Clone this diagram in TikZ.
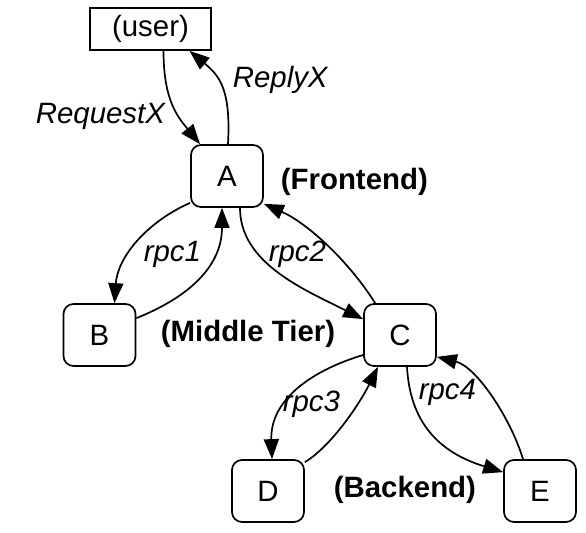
\documentclass[tikz,border=0pt]{standalone}
\usepackage{fontspec}
\setmainfont{Liberation Sans}
\usetikzlibrary{arrows.meta}

\begin{document}
\begin{tikzpicture}[x=0.5pt, y=-0.5pt, line width=0.85pt,
    font=\fontsize{14.7}{17}\selectfont,
    tier/.style={draw, rounded corners=5pt, minimum width=36pt, minimum height=31pt, inner sep=0pt},
    call/.style={-{Triangle[length=10pt,width=7.5pt]}},
    lbl/.style={font=\fontsize{14.7}{17}\selectfont\itshape, anchor=base west, inner sep=0pt},
    layer/.style={font=\fontsize{14.7}{17}\selectfont\bfseries, anchor=base west, inner sep=0pt}]
  \useasboundingbox (0,0) rectangle (586,533);
  % servers
  \node[draw, minimum width=60.5pt, minimum height=21pt, inner sep=0pt] (user) at (150.5,29) {(user)};
  \node[tier] (A) at (227,176) {A};
  \node[tier] (B) at (99.5,335) {B};
  \node[tier] (C) at (400,335) {C};
  \node[tier] (D) at (268,491) {D};
  \node[tier] (E) at (540,491) {E};
  % user <-> frontend
  \draw[call] ([xshift=6.5pt]user.south) .. controls +(0,50) and +(-22,-27) .. ([xshift=-13.5pt]A.north);
  \draw[call] ([xshift=0.5pt]A.north) .. controls +(3,-55) and +(30,25) .. ([xshift=19.5pt]user.south);
  % rpc1
  \draw[call] ([yshift=2.5pt]A.south west) .. controls +(-45,20) and +(3,-45) .. ([xshift=7.5pt]B.north);
  \draw[call] ([yshift=-7.5pt]B.north east) .. controls +(50,-20) and +(0,60) .. ([xshift=-2.5pt]A.south);
  % rpc2
  \draw[call] ([xshift=6.5pt]A.south) .. controls +(0,55) and +(-60,-30) .. ([yshift=-8pt]C.north west);
  \draw[call] ([xshift=6pt]C.north west) .. controls +(-25,-40) and +(45,20) .. ([yshift=2pt]A.south east);
  % rpc3
  \draw[call] ([yshift=-10pt]C.west) .. controls +(-50,15) and +(-2,-60) .. ([xshift=2pt]D.north);
  \draw[call] ([yshift=-1.5pt]D.north east) .. controls +(25,-15) and +(-20,40) .. ([xshift=-11pt]C.south);
  % rpc4
  \draw[call] ([xshift=3.5pt]C.south) .. controls +(3,55) and +(-65,-20) .. ([yshift=-6.5pt]E.north west);
  \draw[call] ([xshift=-8.5pt]E.north) .. controls +(-12,-40) and +(40,10) .. ([yshift=5pt]C.south east);
  % labels
  \node[lbl] (lreply) at (232,88) {ReplyX};
  \node[lbl] (lrequest) at (35,124) {RequestX};
  \node[lbl] (lrpc1) at (143,262) {rpc1};
  \node[lbl] (lrpc2) at (268,262) {rpc2};
  \node[lbl] (lrpc3) at (282,412) {rpc3};
  \node[lbl] (lrpc4) at (418,400) {rpc4};
  \node[layer] (front) at (280,190) {(Frontend)};
  \node[layer] (middle) at (160,342) {(Middle Tier)};
  \node[layer] (back) at (333,498) {(Backend)};
\end{tikzpicture}
\end{document}
